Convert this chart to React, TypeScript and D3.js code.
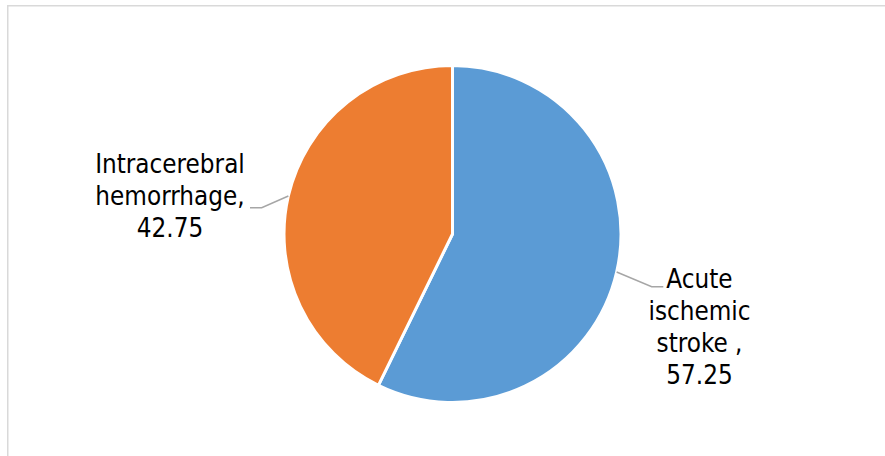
import React from "react";
import * as d3 from "d3";

const categories = ["Acute ischemic stroke", "Intracerebral hemorrhage"];
const values = [57.25, 42.75];
const labelLines = [
  ["Acute", "ischemic", "stroke ,", "57.25"],
  ["Intracerebral", "hemorrhage,", "42.75"],
];
const colors = ["#5B9BD5", "#ED7D31"];

const W = 885;
const H = 456;
const cx = 452.5;
const cy = 234;
const R = 168.5;

export default function App() {
  const pie = d3.pie<number>().sort(null).value((d) => d)(values);
  const arc = d3.arc<d3.PieArcDatum<number>>().innerRadius(0).outerRadius(R);
  const font = "'DejaVu Sans Condensed', 'DejaVu Sans', sans-serif";
  const lineH = 32;
  const labelPos = [
    { x: 699.5, y: 287.5, elbowX: 651.7, elbowY: 286.7, endX: 663.3 },
    { x: 170, y: 173, elbowX: 261.7, elbowY: 207.7, endX: 250 },
  ];
  return (
    <svg
      width={W}
      height={H}
      style={{ position: "absolute", left: 0, top: 0, background: "#fff" }}
    >
      <rect x={7.75} y={5.75} width={1000} height={1000} fill="#fff" stroke="#d9d9d9" strokeWidth={1.5} />
      <g transform={`translate(${cx},${cy})`}>
        {pie.map((p, i) => (
          <path key={categories[i]} d={arc(p) || ""} fill={colors[i]} stroke="#fff" strokeWidth={3} strokeLinejoin="round" />
        ))}
      </g>
      {pie.map((p, i) => {
        const mid = (p.startAngle + p.endAngle) / 2;
        const sx = cx + R * Math.sin(mid);
        const sy = cy - R * Math.cos(mid);
        const lp = labelPos[i];
        return (
          <g key={"l" + i}>
            <polyline
              points={`${sx},${sy} ${lp.elbowX},${lp.elbowY} ${lp.endX},${lp.elbowY}`}
              fill="none"
              stroke="#a6a6a6"
              strokeWidth={1.5}
            />
            <text
              x={lp.x}
              y={lp.y}
              textAnchor="middle"
              fontFamily={font}
              fontSize={25.8}
              style={{ fontStretch: "condensed" }}
              fill="#000"
            >
              {labelLines[i].map((t, j) => (
                <tspan key={j} x={lp.x} y={lp.y + j * lineH}>
                  {t}
                </tspan>
              ))}
            </text>
          </g>
        );
      })}
    </svg>
  );
}
